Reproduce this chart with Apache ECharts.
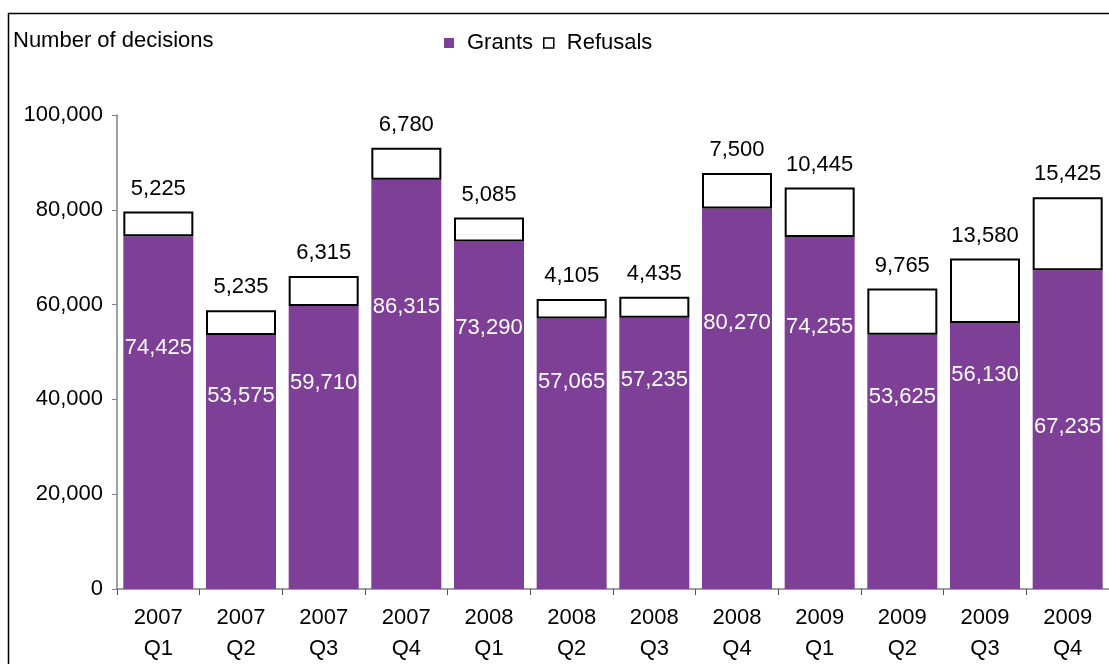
<!DOCTYPE html>
<html><head><meta charset="utf-8">
<script src="https://cdn.jsdelivr.net/npm/echarts@6/dist/echarts.min.js"></script>
<style>html,body{margin:0;padding:0;background:#fff}#c{width:1109px;height:664px}</style>
</head><body><div id="c"></div>
<script>
const categories = ['2007\nQ1','2007\nQ2','2007\nQ3','2007\nQ4','2008\nQ1','2008\nQ2','2008\nQ3','2008\nQ4','2009\nQ1','2009\nQ2','2009\nQ3','2009\nQ4'];
const grants   = [74425,53575,59710,86315,73290,57065,57235,80270,74255,53625,56130,67235];
const refusals = [5225,5235,6315,6780,5085,4105,4435,7500,10445,9765,13580,15425];
const yTicks = [0,20000,40000,60000,80000,100000];
// label offset (px below bar top) of the white Grants labels, as placed in the original
const grantLabelOffset = [112,61,77,127,86,63,62,114,90,62,52,157];

const fmt = v => v.toLocaleString('en-US');
const FONT = 'Liberation Sans, Arial, sans-serif';
const FS = 22;
const chart = echarts.init(document.getElementById('c'));
chart.setOption({
  animation:false,
  textStyle:{fontFamily:FONT},
  graphic:[{type:'rect',shape:{x:8.5,y:13.5,width:1300,height:800},style:{fill:'none',stroke:'#000',lineWidth:1.5},silent:true,z:-1},
           {type:'text',left:13,top:30,style:{text:'Number of decisions',fontSize:FS,fontFamily:FONT,fill:'#000'}}],
  legend:{top:27,left:439,itemWidth:10,itemHeight:10,itemGap:10,
    textStyle:{fontSize:FS,color:'#000',fontFamily:FONT,padding:[0,0,0,8]},
    data:[{name:'Grants',icon:'rect'},{name:'Refusals',icon:'rect',itemStyle:{color:'#fff',borderColor:'#000',borderWidth:1.5}}]},
  grid:{left:117,top:115,bottom:74.7,width:1000,containLabel:false},
  xAxis:{type:'category',data:categories,
    axisLine:{lineStyle:{color:'#808080',width:1.5}},
    axisTick:{show:true,length:6,lineStyle:{color:'#555'}},
    axisLabel:{fontSize:FS,color:'#000',lineHeight:31,margin:13,fontFamily:FONT}},
  yAxis:{type:'value',min:0,max:100000,interval:20000,
    axisLine:{show:true,lineStyle:{color:'#808080',width:1.5}},
    axisTick:{show:true,length:5,lineStyle:{color:'#808080'}},
    splitLine:{show:false},
    axisLabel:{fontSize:FS,color:'#000',margin:14,fontFamily:FONT,formatter:v=>yTicks.includes(v)?fmt(v):''}},
  series:[
    {name:'Grants',type:'bar',stack:'t',barWidth:70,
     itemStyle:{color:'#7E3F97'},
     data:grants.map((v,i)=>({value:v,label:{position:['50%',grantLabelOffset[i]]}})),
     label:{show:true,color:'#fff',fontSize:FS,fontFamily:FONT,align:'center',verticalAlign:'middle',formatter:p=>fmt(p.value)}},
    {name:'Refusals',type:'bar',stack:'t',barWidth:70,
     itemStyle:{color:'#fff',borderColor:'#000',borderWidth:2},
     data:refusals,
     label:{show:true,position:'top',distance:12,color:'#000',fontSize:FS,fontFamily:FONT,formatter:p=>fmt(p.value)}}
  ]
});
</script></body></html>
